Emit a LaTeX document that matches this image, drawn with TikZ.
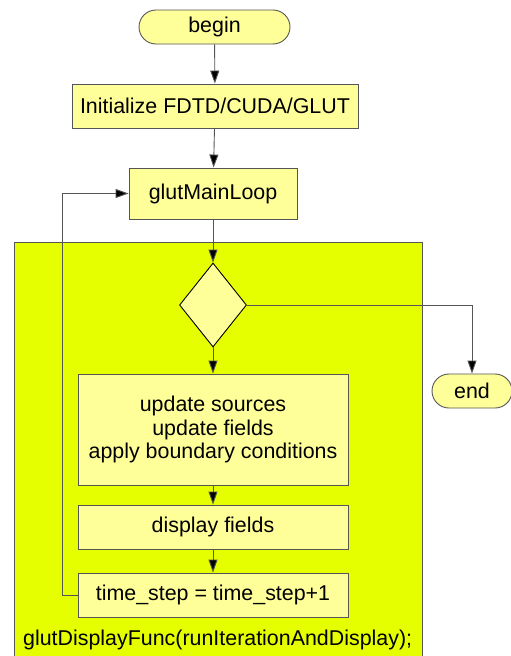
\documentclass[tikz,border=0pt]{standalone}
\usepackage{fontspec}
\setmainfont{Liberation Sans}
\usetikzlibrary{shapes.misc,shapes.geometric,arrows.meta}
\definecolor{boxfill}{HTML}{FFFF99}
\definecolor{loopfill}{HTML}{E6FF00}
\definecolor{edge}{HTML}{555555}
\tikzset{
  base/.style={draw=edge,line width=0.9pt,fill=boxfill,inner sep=0pt,align=center,
    font=\fontsize{21.4}{23.5}\selectfont},
  term/.style={base,rounded rectangle,minimum height=34pt},
  proc/.style={base,rectangle,minimum height=44pt},
  dec/.style={base,diamond,draw=black,minimum width=67pt,minimum height=84pt},
  conn/.style={draw=edge,line width=0.9pt,-{Triangle[length=13pt,width=9pt,fill=black]}},
  plain/.style={draw=edge,line width=0.9pt}
}
\begin{document}
\begin{tikzpicture}[x=1pt,y=-1pt]
\useasboundingbox (0,0) rectangle (511,656);
% loop region
\fill[loopfill] (14,242) rectangle (422,657);
\draw[plain] (14,657) -- (14,242) -- (422,242) -- (422,657);
\node[anchor=base west,inner sep=0pt,font=\fontsize{21.4}{23.5}\selectfont] (gdf) at (23,645) {glutDisplayFunc(runIterationAndDisplay);};

\node[term,minimum width=151pt] (begin) at (214.5,27) {begin};
\node[proc,minimum width=286pt] (init) at (215,106) {Initialize FDTD/CUDA/GLUT};
\node[proc,minimum width=168pt,minimum height=51pt] (main) at (213,193.5) {glutMainLoop};
\node[dec] (dec) at (213,305) {};
\node[term,minimum width=80pt] (end) at (472,391) {end};
\node[proc,minimum width=270pt,minimum height=111pt] (upd) at (213,429.5) {update sources\\update fields\\apply boundary conditions};
\node[proc,minimum width=270pt] (disp) at (213,527) {display fields};
\node[proc,minimum width=270pt] (ts) at (213,595) {time\_step = time\_step+1};
\coordinate (loopx) at (62,595);

\draw[conn] (begin) -- (init);
\draw[conn] (init) -- (main);
\draw[conn] (main) -- (dec);
\draw[conn] (dec) -- (upd);
\draw[conn] (upd) -- (disp);
\draw[conn] (disp) -- (ts);
\draw[conn] (dec.east) -| (end.north);
\draw[conn] (ts.west) -- (loopx) |- (main.west);
\end{tikzpicture}
\end{document}
